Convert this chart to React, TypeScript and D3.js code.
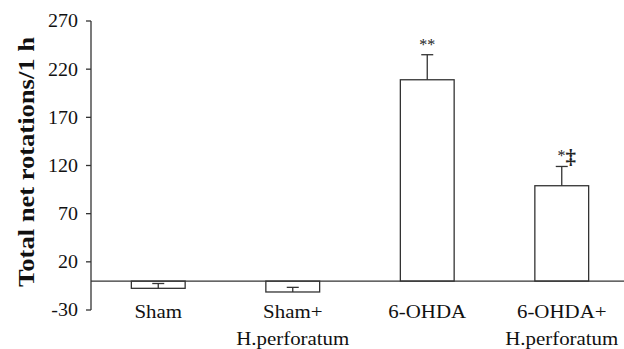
import React from "react";
import * as d3 from "d3";

const categories = [["Sham"], ["Sham+", "H.perforatum"], ["6-OHDA"], ["6-OHDA+", "H.perforatum"]];
const means = [-7.5, -11.3, 209, 99];
const errorEnds = [-2.5, -6.5, 235, 119];
const marks = ["", "", "**", "*"];
const marks2 = ["", "", "", "\u2021"];
const yTicks = [-30, 20, 70, 120, 170, 220, 270];

const W = 624, H = 349;
const left = 91, right = 629, top = 21, bottom = 310;

export default function App() {
  const y = d3.scaleLinear().domain([-30, 270]).range([bottom, top]);
  const x = d3.scaleBand<number>().domain(d3.range(categories.length)).range([left, right]).paddingInner(0.6).paddingOuter(0.3);
  const stroke = "#333";
  const font = "'Liberation Serif', 'Times New Roman', serif";
  return (
    <svg width={W} height={H} style={{ position: "absolute", left: 0, top: 0, background: "#fff" }} fontFamily={font}>
      {/* y axis */}
      <line x1={left} x2={left} y1={y(270)} y2={y(-30)} stroke={stroke} strokeWidth={1.3} />
      {yTicks.map((t) => (
        <g key={t}>
          <line x1={left - 5} x2={left} y1={y(t)} y2={y(t)} stroke={stroke} strokeWidth={1.3} />
          <text transform={`translate(${left - 13},${y(t)}) scale(1.08,1)`} dy="0.35em" textAnchor="end" fontSize={18.5} fill="#111">{t}</text>
        </g>
      ))}
      <text transform={`translate(26,${162}) rotate(-90)`} textAnchor="middle" fontSize={23} fontWeight="bold" dy="0.35em" fill="#111" textLength={250} lengthAdjust="spacingAndGlyphs">Total net rotations/1 h</text>
      {/* bars */}
      {means.map((m, i) => {
        const x0 = x(i)!;
        const bw = x.bandwidth();
        const cx = x0 + bw / 2;
        const y0 = y(0), y1 = y(m);
        return (
          <g key={i}>
            <rect x={x0} y={Math.min(y0, y1)} width={bw} height={Math.abs(y1 - y0)} fill="#fff" stroke={stroke} strokeWidth={1.3} />
            <line x1={cx} x2={cx} y1={y(m)} y2={y(errorEnds[i])} stroke={stroke} strokeWidth={1.3} />
            <line x1={cx - 6} x2={cx + 6} y1={y(errorEnds[i])} y2={y(errorEnds[i])} stroke={stroke} strokeWidth={1.3} />
            {marks[i] && (
              <text x={cx + (i === 3 ? 5 : 0)} y={y(errorEnds[i]) - 5} textAnchor="middle" fontSize={16} fill="#222">
                {marks[i]}
                {marks2[i] && <tspan fontSize={21} fontWeight="bold" dy={3}>{marks2[i]}</tspan>}
              </text>
            )}
            {categories[i].map((l, j) => (
              <text key={j} transform={`translate(${cx},${318 + j * 27}) scale(1.1,1)`} textAnchor="middle" fontSize={19} fill="#111">{l}</text>
            ))}
          </g>
        );
      })}
      {/* zero line */}
      <line x1={left} x2={W} y1={y(0)} y2={y(0)} stroke={stroke} strokeWidth={1.3} />
    </svg>
  );
}
